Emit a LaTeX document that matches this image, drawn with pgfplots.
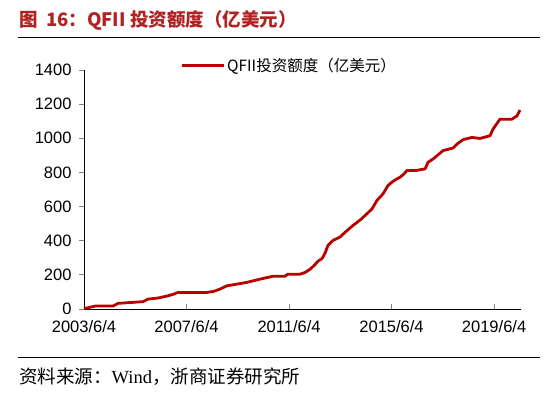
\documentclass[border=0pt]{standalone}
\usepackage{fontspec}
\setmainfont{Liberation Sans}
\newfontfamily\cjk{Noto Sans CJK SC}
\newfontfamily\serif{Liberation Serif}
\usepackage{pgfplots}
\pgfplotsset{compat=1.18}
\usepackage{pgfplotstable}
\definecolor{linered}{RGB}{185,0,0}
\definecolor{titlered}{RGB}{178,34,34}

\pgfplotstableread{
x y
2003.42 3
2003.60 8
2003.85 17
2004.55 17
2004.75 33
2005.72 43
2005.92 58
2006.30 64
2006.66 76
2006.90 86
2007.09 97
2008.22 97
2008.50 104
2008.73 117
2009.00 136
2009.40 146
2009.78 156
2010.29 175
2010.80 192
2011.26 192
2011.38 204
2011.85 204
2012.05 214
2012.24 233
2012.40 255
2012.55 280
2012.71 296
2012.82 325
2012.94 373
2013.14 402
2013.41 422
2013.65 455
2013.92 490
2014.20 522
2014.46 558
2014.66 587
2014.85 636
2015.09 675
2015.28 723
2015.45 745
2015.63 762
2015.75 772
2015.90 790
2016.02 811
2016.40 812
2016.73 821
2016.84 859
2017.04 879
2017.25 905
2017.43 928
2017.82 943
2017.98 967
2018.21 992
2018.56 1005
2018.87 999
2019.26 1015
2019.38 1054
2019.50 1080
2019.65 1112
2020.12 1112
2020.32 1132
2020.43 1165
}\qfii

\begin{document}
\begin{tikzpicture}[x=1pt,y=1pt]
\useasboundingbox (0,0) rectangle (550,398);
% title
\node[anchor=west,inner sep=0pt,text=titlered] at (19,378)
  {\cjk\bfseries\fontsize{18.5}{21}\selectfont 图\ \ 16：QFII 投资额度（亿美元）};
\draw[line width=1pt] (18,360) -- (540,360);
% source
\draw[line width=1pt] (18,40) -- (540,40);
\node[anchor=west,inner sep=0pt] at (19,21)
  {\fontsize{18.5}{21}\selectfont{\cjk 资料来源：}{\serif Wind}{\cjk ，浙商证券研究所}};

\begin{axis}[
  at={(84pt,89pt)}, anchor=south west,
  scale only axis, width=437pt, height=239pt,
  xmin=2003.42, xmax=2020.47, ymin=0, ymax=1400,
  axis x line=bottom, axis y line=left,
  axis line style={-, line width=0.8pt},
  xtick={2003.42,2007.42,2011.42,2015.42,2019.42},
  xticklabels={2003/6/4,2007/6/4,2011/6/4,2015/6/4,2019/6/4},
  ytick={0,200,...,1400},
  tick align=inside, major tick length=5pt,
  ytick style={xshift=-5pt, line width=0.8pt},
  xtick style={line width=0.8pt},
  /pgf/number format/1000 sep={},
  /pgf/number format/assume math mode=true,
  tick label style={font=\fontsize{16.5}{18}\selectfont},
  yticklabel style={xshift=-9pt},
  xticklabel style={yshift=-8pt},
  clip=false,
  legend style={at={(0.22,1.02)}, anchor=west, draw=none, fill=none,
    inner sep=0pt, font=\cjk\fontsize{15.5}{17}\selectfont},
  legend image code/.code={\draw[#1] (0pt,0pt) -- (42pt,0pt);},
]
\addplot[linered, line width=2.8pt, line join=round] table[x=x,y=y] {\qfii};
\addlegendentry{QFII投资额度（亿美元）}
\end{axis}
\end{tikzpicture}
\end{document}
